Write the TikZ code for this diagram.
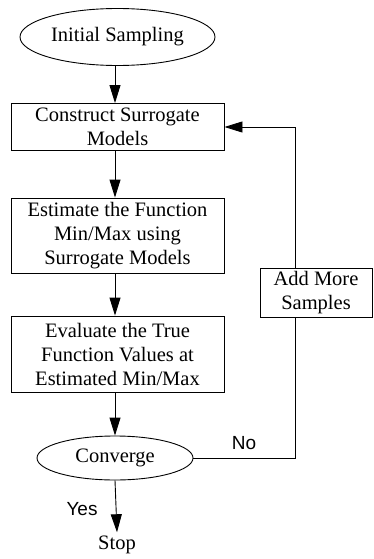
\documentclass[tikz,border=0pt]{standalone}
\usepackage{fontspec}
\setmainfont{Liberation Serif}
\newfontfamily\labfont{Liberation Sans}
\usetikzlibrary{shapes.geometric,arrows.meta}
\begin{document}
\begin{tikzpicture}[x=1pt,y=-1pt,
  line width=0.9pt,
  every node/.style={font=\fontsize{20.5}{24}\selectfont, align=center},
  procbox/.style={draw, minimum width=213pt, inner sep=0pt},
  termell/.style={draw, ellipse, inner sep=0pt},
  arr/.style={-{Triangle[length=18pt,width=11pt]}},
  lab/.style={font=\labfont\fontsize{19}{22}\selectfont}]
\useasboundingbox (0,0) rectangle (374,559);
\node[termell, minimum width=195pt, minimum height=57pt] (init) at (117.5,37) {Initial Sampling};
\node[procbox, minimum height=47pt] (b1) at (117.5,127) {Construct Surrogate\\Models};
\node[procbox, minimum height=75pt] (b2) at (117.5,235.5) {Estimate the Function\\Min/Max using\\Surrogate Models};
\node[procbox, minimum height=76pt] (b3) at (117.5,354) {Evaluate the True\\Function Values at\\Estimated Min/Max};
\node[termell, minimum width=156pt, minimum height=44pt] (conv) at (115,458) {Converge};
\node (stop) at (117,545) {Stop};
\node[draw, minimum width=112pt, minimum height=49pt, inner sep=0pt] (add) at (316,292.5) {Add More\\Samples};
\coordinate (c1) at (295,458);
\coordinate (c2) at (295,127);
\draw[arr] (init.south -| 115,0) -- (b1.north -| 115,0);
\draw[arr] (b1.south -| 115,0) -- (b2.north -| 115,0);
\draw[arr] (b2.south -| 115,0) -- (b3.north -| 115,0);
\draw[arr] (b3.south -| 115,0) -- (conv.north -| 115,0);
\draw[arr] (conv.south) -- (stop.north);
\draw (conv.east) -- (c1) -- (c1 |- add.south);
\draw[arr] (c1 |- add.north) -- (c2) -- (b1.east);
\node[lab] (no) at (244,443) {No};
\node[lab] (yes) at (82,509) {Yes};
\end{tikzpicture}
\end{document}
